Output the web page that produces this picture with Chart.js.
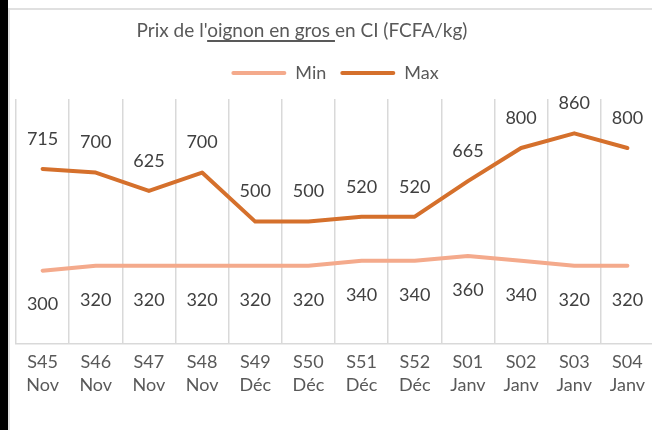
<!DOCTYPE html>
<html>
<head>
<meta charset="utf-8">
<script src="https://cdn.jsdelivr.net/npm/chart.js@4"></script>
<style>
    html, body { margin: 0; padding: 0; background: #fff; overflow: hidden; }
    body { width: 652px; height: 430px; position: relative; }
    #chart1 { position: absolute; left: 0; top: 0; }
    .strip { position: absolute; left: 0; top: 0; width: 8px; height: 430px; background: #000; }
    .frame { position: absolute; left: 8px; top: 8px; width: 700px; height: 500px;
        border-left: 2px solid #e0e0e0; border-top: 2px solid #e0e0e0; }
    .title { position: absolute; left: 302px; top: 18px; transform: translateX(-50%);
        white-space: nowrap; font-family: Lato, sans-serif; font-size: 19px; color: #595959; }
    .title u { text-decoration-thickness: 1.5px; text-underline-offset: 3px; }
</style>
</head>
<body>
<div class="frame"></div>
<div class="strip"></div>
<canvas id="chart1" width="660" height="430"></canvas>
<div class="title">Prix de l'<u>oignon en gros </u>en CI (FCFA/kg)</div>
<script>
// weeks / months
const categories = [
    ['S45', 'Nov'], ['S46', 'Nov'], ['S47', 'Nov'], ['S48', 'Nov'],
    ['S49', 'Déc'], ['S50', 'Déc'], ['S51', 'Déc'], ['S52', 'Déc'],
    ['S01', 'Janv'], ['S02', 'Janv'], ['S03', 'Janv'], ['S04', 'Janv']
];
const minValues = [300, 320, 320, 320, 320, 320, 340, 340, 360, 340, 320, 320];
const maxValues = [715, 700, 625, 700, 500, 500, 520, 520, 665, 800, 860, 800];

const minColor = '#F4AA8C';
const maxColor = '#D5702C';

// value labels, above for Max, below for Min
const valueLabels = {
    id: 'valueLabels',
    afterDatasetsDraw(chart) {
        const ctx = chart.ctx;
        ctx.save();
        ctx.font = '18px Lato, sans-serif';
        ctx.fillStyle = '#404040';
        ctx.textAlign = 'center';
        ctx.textBaseline = 'middle';
        chart.data.datasets.forEach((ds, i) => {
            const meta = chart.getDatasetMeta(i);
            const shift = ds.label === 'Max' ? -30 : 34;
            meta.data.forEach((pt, j) => {
                ctx.fillText(ds.data[j], pt.x, pt.y + shift);
            });
        });
        ctx.restore();
    }
};

// extra room under the legend
const legendGap = {
    id: 'legendGap',
    beforeInit(chart) {
        const fit = chart.legend.fit;
        chart.legend.fit = function () {
            fit.bind(chart.legend)();
            this.height += 7;
        };
    }
};

var ctx = document.getElementById('chart1').getContext('2d');

var myChart = new Chart(ctx, {
    type: 'line',
    data: {
        labels: categories,
        datasets: [{
            label: 'Min',
            data: minValues,
            borderColor: minColor,
            backgroundColor: minColor,
            borderWidth: 4,
            pointRadius: 0,
            borderCapStyle: 'round',
            borderJoinStyle: 'round',
            tension: 0
        }, {
            label: 'Max',
            data: maxValues,
            borderColor: maxColor,
            backgroundColor: maxColor,
            borderWidth: 4,
            pointRadius: 0,
            borderCapStyle: 'round',
            borderJoinStyle: 'round',
            tension: 0
        }]
    },
    options: {
        responsive: false,
        animation: false,
        devicePixelRatio: 1,
        layout: {
            padding: { top: 50, left: 16, right: 6, bottom: 27 }
        },
        plugins: {
            legend: {
                display: true,
                position: 'top',
                labels: {
                    boxWidth: 55,
                    boxHeight: 4,
                    padding: 14,
                    color: '#595959',
                    font: { family: 'Lato, sans-serif', size: 18 },
                    useBorderRadius: true,
                    borderRadius: 2,
                    generateLabels: function (chart) {
                        return Chart.defaults.plugins.legend.labels.generateLabels(chart).map(function (l) {
                            l.fillStyle = l.strokeStyle;
                            l.lineWidth = 0;
                            return l;
                        });
                    }
                }
            },
            tooltip: { enabled: false }
        },
        scales: {
            x: {
                offset: true,
                grid: {
                    offset: true,
                    drawTicks: false,
                    color: '#d9d9d9',
                    lineWidth: 1.5
                },
                border: { color: '#d9d9d9', width: 1.5 },
                ticks: {
                    padding: 6,
                    color: '#595959',
                    font: { family: 'Lato, sans-serif', size: 18, lineHeight: 1.3 },
                    maxRotation: 0,
                    autoSkip: false
                }
            },
            y: {
                display: false,
                min: 0,
                max: 1000
            }
        }
    },
    plugins: [valueLabels, legendGap]
});
</script>
</body>
</html>
